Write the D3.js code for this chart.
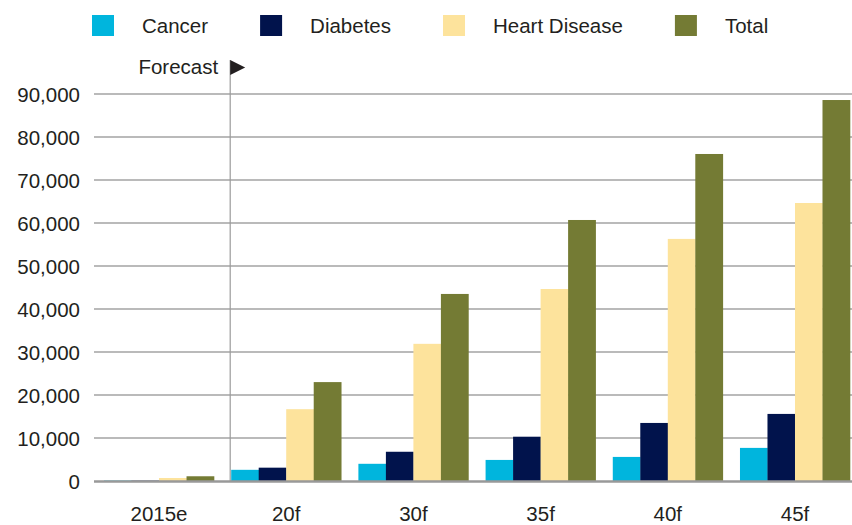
<!DOCTYPE html>
<html>
<head>
<meta charset="utf-8">
<script src="https://cdn.jsdelivr.net/npm/d3@7"></script>
<style>
  body { margin: 0; background: #fff; }
  svg text { font-family: "Liberation Sans", Arial, Helvetica, sans-serif; fill: #231f20; }
</style>
</head>
<body>
<div id="chart"></div>
<script>
// ===========Data
var categories = ["2015e", "20f", "30f", "35f", "40f", "45f"];
var seriesNames = ["Cancer", "Diabetes", "Heart Disease", "Total"];
var cancer = [100, 2600, 4000, 4900, 5600, 7700];
var diabetes = [100, 3100, 6800, 10300, 13500, 15600];
var heartDisease = [700, 16700, 31900, 44650, 56300, 64650];
var total = [1100, 23000, 43500, 60700, 76050, 88600];
var yTicks = [0, 10000, 20000, 30000, 40000, 50000, 60000, 70000, 80000, 90000];
var forecastStart = "20f";

var colors = ["#00b5dd", "#01134c", "#fde39c", "#747b34"];
var seriesValues = [cancer, diabetes, heartDisease, total];

// ===========Size
var svgWidth = 852;
var svgHeight = 525;

var svg = d3.select("#chart").append("svg")
    .attr("width", svgWidth)
    .attr("height", svgHeight);

// ===========Scales
var xScale = d3.scaleBand()
    .domain(categories)
    .range([104, 850])
    .paddingInner(0.135)
    .paddingOuter(0);

var xInner = d3.scaleBand()
    .domain(seriesNames)
    .range([0, xScale.bandwidth()]);

var yScale = d3.scaleLinear()
    .domain([0, 90000])
    .range([481, 94]);

var plotLeft = 94;
var plotRight = 852;

// ===========Gridlines
svg.append("g")
    .selectAll("line")
    .data(yTicks.filter(d => d > 0))
    .enter()
    .append("line")
    .attr("x1", plotLeft)
    .attr("x2", plotRight)
    .attr("y1", d => yScale(d))
    .attr("y2", d => yScale(d))
    .attr("stroke", "#a3a3a3")
    .attr("stroke-width", 1.5);

// ===========Forecast marker
var fx = xScale(forecastStart) - 1;
svg.append("line")
    .attr("x1", fx).attr("x2", fx)
    .attr("y1", 60).attr("y2", yScale(0))
    .attr("stroke", "#9a9a9a")
    .attr("stroke-width", 1.2);

svg.append("path")
    .attr("d", `M${fx},60 L${fx + 15},67.5 L${fx},75 Z`)
    .attr("fill", "#231f20");

svg.append("text")
    .attr("x", fx - 12)
    .attr("y", 74)
    .attr("text-anchor", "end")
    .attr("font-size", "20.5px")
    .text("Forecast");

// ===========Bars
var groups = svg.append("g")
    .selectAll("g")
    .data(categories)
    .enter()
    .append("g")
    .attr("transform", d => `translate(${xScale(d)},0)`);

groups.selectAll("rect")
    .data((c, i) => seriesNames.map((s, j) => ({ series: s, value: seriesValues[j][i], color: colors[j] })))
    .enter()
    .append("rect")
    .attr("x", d => xInner(d.series))
    .attr("width", xInner.bandwidth() + 0.3)
    .attr("y", d => yScale(d.value))
    .attr("height", d => yScale(0) - yScale(d.value))
    .attr("fill", d => d.color);

// ===========Baseline
svg.append("line")
    .attr("x1", plotLeft)
    .attr("x2", plotRight)
    .attr("y1", yScale(0) + 0.5)
    .attr("y2", yScale(0) + 0.5)
    .attr("stroke", "#999")
    .attr("stroke-width", 2.5);

// ===========Axes
var leftAxis = d3.axisLeft(yScale)
    .tickValues(yTicks)
    .tickSize(0)
    .tickPadding(0)
    .tickFormat(d3.format(","));

var yAxis = svg.append("g")
    .attr("transform", "translate(80,0)")
    .call(leftAxis);
yAxis.select(".domain").remove();
yAxis.selectAll("text")
    .attr("font-size", "20.5px")
    .attr("font-family", null)
    .attr("fill", null)
    .attr("dy", "0.36em");

var bottomAxis = d3.axisBottom(xScale)
    .tickSize(0)
    .tickPadding(0);

var xAxis = svg.append("g")
    .attr("transform", "translate(0,0)")
    .call(bottomAxis);
xAxis.select(".domain").remove();
xAxis.selectAll("text")
    .attr("font-size", "20.5px")
    .attr("font-family", null)
    .attr("fill", null)
    .attr("y", 521)
    .attr("dy", null);

// ===========Legend
var legend = svg.append("g");
var lx = 92;
seriesNames.forEach(function(name, i) {
    legend.append("rect")
        .attr("x", lx)
        .attr("y", 15)
        .attr("width", 22)
        .attr("height", 21)
        .attr("fill", colors[i]);
    var t = legend.append("text")
        .attr("x", lx + 50)
        .attr("y", 33)
        .attr("font-size", "20.5px")
        .text(name);
    lx = lx + 50 + t.node().getComputedTextLength() + 52;
});
</script>
</body>
</html>
